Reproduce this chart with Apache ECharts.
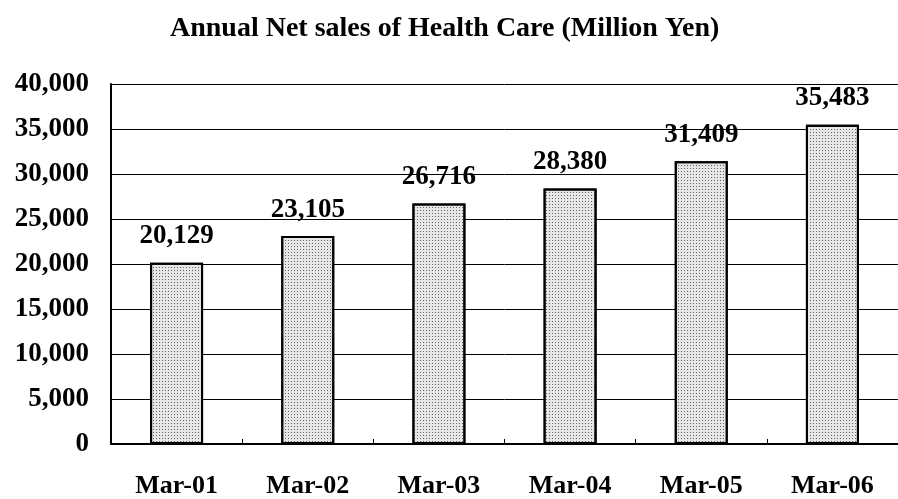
<!DOCTYPE html>
<html>
<head>
<meta charset="utf-8">
<script src="https://cdn.jsdelivr.net/npm/echarts@6/dist/echarts.min.js"></script>
<style>
html,body{margin:0;padding:0;background:#fff;}
#chart{width:898px;height:499px;}
</style>
</head>
<body>
<div id="chart"></div>
<script>
// 年度数据
var categories = ['Mar-01', 'Mar-02', 'Mar-03', 'Mar-04', 'Mar-05', 'Mar-06'];
var salesValues = [20129, 23105, 26716, 28380, 31409, 35483];
var yTicks = [0, 5000, 10000, 15000, 20000, 25000, 30000, 35000, 40000];

var serifFont = '"Liberation Serif", "DejaVu Serif", serif';

function fmtNum(v) {
	return String(v).replace(/\B(?=(\d{3})+(?!\d))/g, ',');
}

var myChart = echarts.init(document.getElementById('chart'));
var option = {
	backgroundColor: '#fff',
	animation: false,
	title: {
		text: 'Annual Net sales of Health Care (Million Yen)',
		left: 165,
		top: 10,
		textStyle: {
			fontFamily: serifFont,
			fontSize: 28,
			fontWeight: 'bold',
			color: '#000'
		}
	},
	grid: {
		left: 111,
		right: -12,
		top: 84,
		bottom: 53
	},
	xAxis: {
		type: 'category',
		data: categories,
		axisLine: { lineStyle: { color: '#000', width: 2 } },
		axisTick: { show: true, inside: true, length: 5, lineStyle: { color: '#000' } },
		axisLabel: {
			margin: 29,
			fontFamily: serifFont,
			fontSize: 26,
			fontWeight: 'bold',
			color: '#000'
		}
	},
	yAxis: {
		type: 'value',
		min: yTicks[0],
		max: yTicks[yTicks.length - 1],
		interval: 5000,
		axisLine: { show: true, lineStyle: { color: '#000', width: 2 } },
		axisTick: { show: false },
		splitLine: { lineStyle: { color: '#000', width: 1 } },
		axisLabel: {
			margin: 22,
			fontFamily: serifFont,
			fontSize: 27,
			fontWeight: 'bold',
			color: '#000',
			formatter: function (v) { return fmtNum(v); }
		}
	},
	series: [
		{
			type: 'bar',
			data: salesValues,
			barWidth: 53,
			itemStyle: {
				color: '#e6e6e6',
				borderColor: '#000',
				borderWidth: 2,
				decal: {
					symbol: 'rect',
					symbolSize: 1,
					dashArrayX: [1, 2],
					dashArrayY: [1, 2],
					color: 'rgba(30,30,30,0.65)',
					rotation: 0
				}
			},
			label: {
				show: true,
				position: 'top',
				distance: 13,
				fontFamily: serifFont,
				fontSize: 27,
				fontWeight: 'bold',
				color: '#000',
				formatter: function (p) { return fmtNum(p.value); }
			}
		}
	]
};
myChart.setOption(option);
</script>
</body>
</html>
